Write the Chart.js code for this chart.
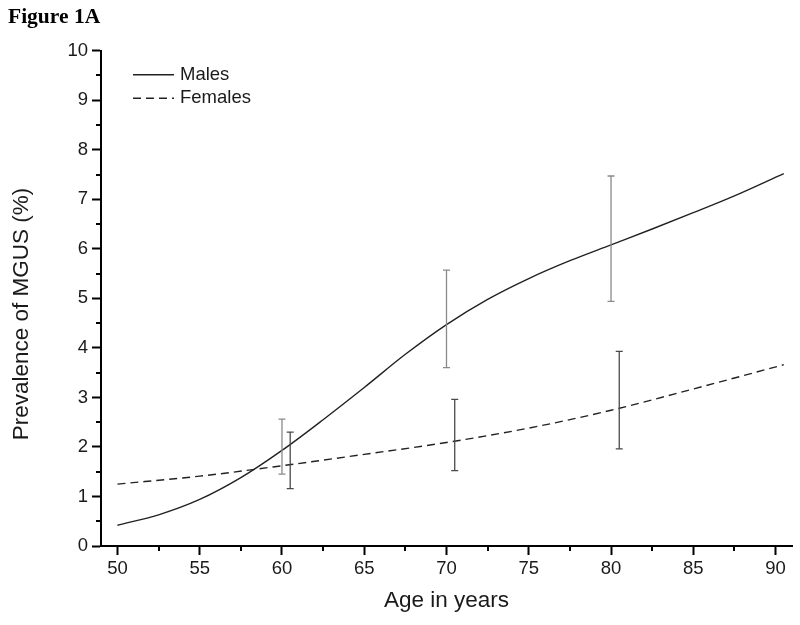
<!DOCTYPE html>
<html><head><meta charset="utf-8">
<script src="https://cdn.jsdelivr.net/npm/chart.js@4.4.1/dist/chart.umd.min.js"></script>
<style>html,body{margin:0;padding:0;background:#fff;}#wrap{width:800px;height:625px;}</style>
</head><body><div id="wrap"><canvas id="c" width="800" height="625"></canvas></div>
<script>
// ---- data ----
const maleAges   = [50, 52.5, 55, 57.5, 60, 62.5, 65, 67.5, 70, 72.5, 75, 77.5, 80, 82.5, 85, 87.5, 90.5];
const maleValues = [0.42, 0.63, 0.94, 1.38, 1.93, 2.55, 3.2, 3.87, 4.47, 4.98, 5.40, 5.76, 6.08, 6.40, 6.73, 7.07, 7.52];
const femaleAges   = [50, 55, 60, 65, 70, 75, 80, 85, 90.5];
const femaleValues = [1.25, 1.41, 1.62, 1.85, 2.09, 2.38, 2.74, 3.17, 3.66];
const maleErrAges = [60, 70, 80];
const maleErrLow  = [1.45, 3.60, 4.94];
const maleErrHigh = [2.56, 5.57, 7.47];
const femaleErrAges = [60.5, 70.5, 80.5];
const femaleErrLow  = [1.16, 1.52, 1.96];
const femaleErrHigh = [2.30, 2.96, 3.93];
const xTicks = [50, 55, 60, 65, 70, 75, 80, 85, 90];
const xMinorTicks = [52.5, 57.5, 62.5, 67.5, 72.5, 77.5, 82.5, 87.5];
const yTicks = [0, 1, 2, 3, 4, 5, 6, 7, 8, 9, 10];
const yMinorTicks = [0.5, 1.5, 2.5, 3.5, 4.5, 5.5, 6.5, 7.5, 8.5, 9.5];
const seriesNames = ['Males', 'Females'];
const figureTitle = 'Figure 1A';
const xTitle = 'Age in years';
const yTitle = 'Prevalence of MGUS (%)';

const FONT = "'Liberation Sans', Arial, sans-serif";
const toPts = (xs, ys) => xs.map((x, i) => ({x, y: ys[i]}));

const errorSets = [
  {ages: maleErrAges, lo: maleErrLow, hi: maleErrHigh, color: '#8a8a8a'},
  {ages: femaleErrAges, lo: femaleErrLow, hi: femaleErrHigh, color: '#4a4a4a'}
];

const extras = {
  id: 'extras',
  afterDatasetsDraw(chart) {
    const {ctx, scales: {x, y}} = chart;
    ctx.save();
    ctx.lineWidth = 1.3;
    errorSets.forEach(s => {
      ctx.strokeStyle = s.color;
      s.ages.forEach((a, i) => {
        const px = x.getPixelForValue(a);
        const pl = y.getPixelForValue(s.lo[i]);
        const ph = y.getPixelForValue(s.hi[i]);
        ctx.beginPath();
        ctx.moveTo(px, pl); ctx.lineTo(px, ph);
        ctx.moveTo(px - 3.5, pl); ctx.lineTo(px + 3.5, pl);
        ctx.moveTo(px - 3.5, ph); ctx.lineTo(px + 3.5, ph);
        ctx.stroke();
      });
    });
    ctx.restore();
  },
  afterDraw(chart) {
    const {ctx, chartArea, scales: {x, y}} = chart;
    ctx.save();
    // minor ticks
    ctx.strokeStyle = '#000';
    ctx.lineWidth = 2;
    ctx.beginPath();
    yMinorTicks.forEach(v => {
      const py = Math.round(y.getPixelForValue(v));
      ctx.moveTo(chartArea.left - 5, py); ctx.lineTo(chartArea.left, py);
    });
    xMinorTicks.forEach(v => {
      const px = Math.round(x.getPixelForValue(v));
      ctx.moveTo(px, chartArea.bottom); ctx.lineTo(px, chartArea.bottom + 5);
    });
    ctx.stroke();
    // legend
    const lx = chartArea.left + 32, ly = chartArea.top + 24;
    chart.data.datasets.forEach((ds, i) => {
      const yy = ly + i * 23.5;
      ctx.strokeStyle = ds.borderColor;
      ctx.lineWidth = ds.borderWidth;
      ctx.setLineDash(ds.borderDash || []);
      ctx.beginPath(); ctx.moveTo(lx, yy); ctx.lineTo(lx + 41, yy); ctx.stroke();
      ctx.setLineDash([]);
      ctx.fillStyle = '#1a1a1a';
      ctx.font = '18.5px ' + FONT;
      ctx.textBaseline = 'middle';
      ctx.textAlign = 'left';
      ctx.fillText(ds.label, lx + 47, yy);
    });
    // y-axis title
    ctx.save();
    ctx.translate(22, 314);
    ctx.rotate(-Math.PI / 2);
    ctx.fillStyle = '#1a1a1a';
    ctx.font = '22.5px ' + FONT;
    ctx.textAlign = 'center';
    ctx.textBaseline = 'middle';
    ctx.fillText(yTitle, 0, 0);
    ctx.restore();
    // figure title
    ctx.fillStyle = '#000';
    ctx.font = "bold 21.5px 'Liberation Serif', 'Times New Roman', serif";
    ctx.textAlign = 'left';
    ctx.textBaseline = 'alphabetic';
    ctx.fillText(figureTitle, 8, 23);
    ctx.restore();
  }
};

new Chart(document.getElementById('c'), {
  type: 'scatter',
  data: {
    datasets: [
      {label: seriesNames[0], data: toPts(maleAges, maleValues), showLine: true, borderColor: '#222', borderWidth: 1.4,
       pointRadius: 0, cubicInterpolationMode: 'monotone', fill: false},
      {label: seriesNames[1], data: toPts(femaleAges, femaleValues), showLine: true, borderColor: '#222', borderWidth: 1.4,
       borderDash: [8, 5], pointRadius: 0, cubicInterpolationMode: 'monotone', fill: false}
    ]
  },
  options: {
    responsive: false,
    animation: false,
    devicePixelRatio: 1,
    layout: {padding: {left: 10.5, right: 8, top: 50.7, bottom: 13}},
    plugins: {legend: {display: false}, tooltip: {enabled: false}},
    scales: {
      x: {
        type: 'linear', min: 49, max: 91,
        afterBuildTicks: s => { s.ticks = xTicks.map(v => ({value: v})); },
        afterFit: s => { s.height = 66; },
        grid: {display: true, drawOnChartArea: false, drawTicks: true, tickLength: 9, tickWidth: 2, tickColor: '#000'},
        border: {display: true, color: '#000', width: 2},
        ticks: {font: {family: FONT, size: 18.5}, color: '#1a1a1a', padding: 3, maxRotation: 0, autoSkip: false},
        title: {display: true, text: xTitle, font: {family: FONT, size: 22.5, lineHeight: 1}, color: '#1a1a1a', padding: 0}
      },
      y: {
        type: 'linear', min: 0, max: 10,
        afterBuildTicks: s => { s.ticks = yTicks.map(v => ({value: v})); },
        afterFit: s => { s.width = 90.5; },
        grid: {display: true, drawOnChartArea: false, drawTicks: true, tickLength: 9, tickWidth: 2, tickColor: '#000'},
        border: {display: true, color: '#000', width: 2},
        ticks: {font: {family: FONT, size: 18.5}, color: '#1a1a1a', padding: 4, autoSkip: false},
        title: {display: false}
      }
    }
  },
  plugins: [extras]
});
</script>
</body></html>
